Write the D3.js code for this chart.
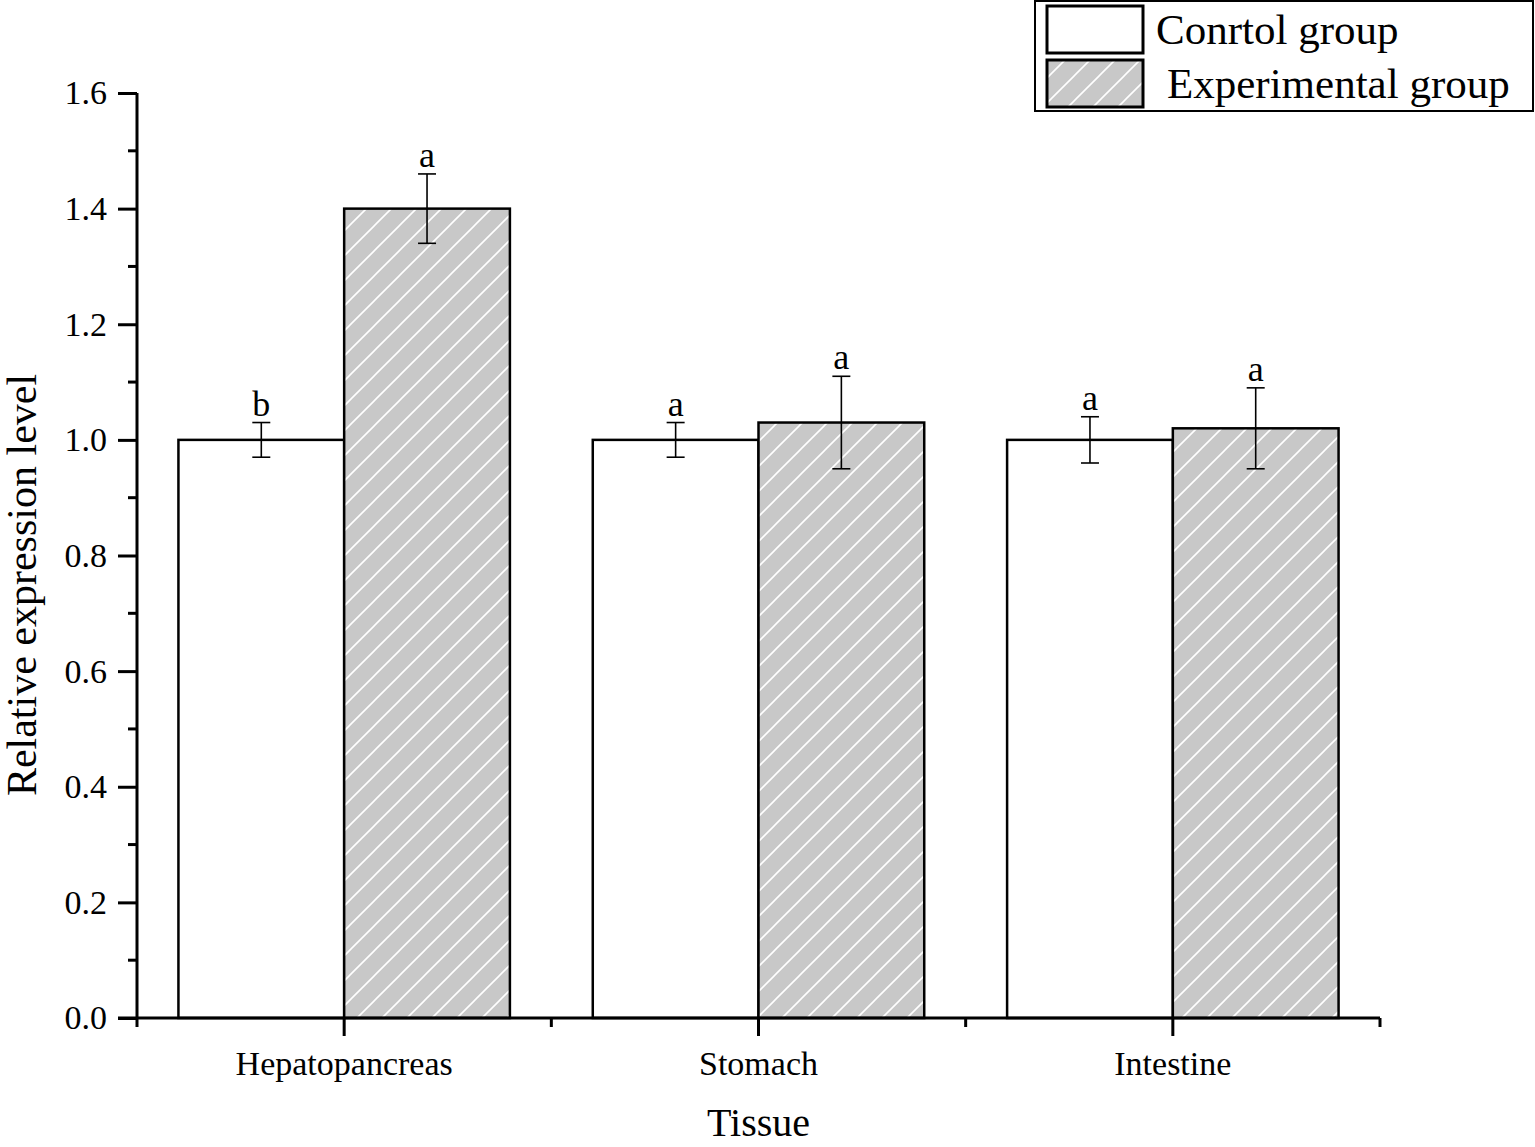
<!DOCTYPE html>
<html>
<head>
<meta charset="utf-8">
<script src="https://cdn.jsdelivr.net/npm/d3@7"></script>
<style>
  body { margin: 0; background: #fff; }
  text { font-family: "Liberation Serif", "Times New Roman", serif; fill: #000; }
</style>
</head>
<body>
<svg id="chart" width="1535" height="1147"></svg>
<script>
// data
const tissues = ["Hepatopancreas", "Stomach", "Intestine"];
const groups = ["Conrtol group", "Experimental group"];
const controlMean = [1.0, 1.0, 1.0];
const controlErr = [0.03, 0.03, 0.04];
const controlSig = ["b", "a", "a"];
const expMean = [1.40, 1.03, 1.02];
const expErr = [0.06, 0.08, 0.07];
const expSig = ["a", "a", "a"];
const yTicks = [0, 0.2, 0.4, 0.6, 0.8, 1.0, 1.2, 1.4, 1.6];

const svg = d3.select("#chart");

let plotLeft = 137, plotRight = 1380, plotTop = 93, plotBottom = 1018;

let x = d3.scaleBand().domain(tissues).range([plotLeft, plotRight]).paddingInner(0).paddingOuter(0);
let xSub = d3.scaleBand().domain(groups).range([0, x.bandwidth()]).paddingInner(0).paddingOuter(0.25);
let y = d3.scaleLinear().domain([0, 1.6]).range([plotBottom, plotTop]);

// hatch pattern for the experimental bars
let defs = svg.append("defs");
let pat = defs.append("pattern")
  .attr("id", "hatch")
  .attr("patternUnits", "userSpaceOnUse")
  .attr("width", 25).attr("height", 25);
pat.append("rect").attr("width", 25).attr("height", 25).attr("fill", "#c8c8c8");
pat.append("path")
  .attr("d", "M-2,27 L27,-2 M-14,14 L14,-14 M11,39 L39,11")
  .attr("stroke", "#fff").attr("stroke-width", 1.6);

let rows = tissues.map((t, i) => ([
  {tissue: t, group: groups[0], mean: controlMean[i], err: controlErr[i], sig: controlSig[i]},
  {tissue: t, group: groups[1], mean: expMean[i], err: expErr[i], sig: expSig[i]}
])).flat();

let bars = svg.append("g");
bars.selectAll("rect").data(rows).join("rect")
  .attr("x", d => x(d.tissue) + xSub(d.group))
  .attr("y", d => y(d.mean))
  .attr("width", xSub.bandwidth())
  .attr("height", d => y(0) - y(d.mean))
  .attr("fill", d => d.group === groups[0] ? "#fff" : "url(#hatch)")
  .attr("stroke", "#000")
  .attr("stroke-width", 2.5);

// error bars
let eb = svg.append("g").attr("stroke", "#000").attr("stroke-width", 1.6);
rows.forEach(d => {
  let cx = x(d.tissue) + xSub(d.group) + xSub.bandwidth() / 2;
  eb.append("line").attr("x1", cx).attr("x2", cx).attr("y1", y(d.mean + d.err)).attr("y2", y(d.mean - d.err));
  eb.append("line").attr("x1", cx - 9).attr("x2", cx + 9).attr("y1", y(d.mean + d.err)).attr("y2", y(d.mean + d.err));
  eb.append("line").attr("x1", cx - 9).attr("x2", cx + 9).attr("y1", y(d.mean - d.err)).attr("y2", y(d.mean - d.err));
});

svg.append("g").selectAll("text").data(rows).join("text")
  .attr("x", d => x(d.tissue) + xSub(d.group) + xSub.bandwidth() / 2)
  .attr("y", d => y(d.mean + d.err) - 7)
  .attr("text-anchor", "middle")
  .style("font-size", "36px")
  .text(d => d.sig);

// y axis
let yAxis = svg.append("g").attr("transform", `translate(${plotLeft},0)`)
  .call(d3.axisLeft(y).tickValues(yTicks).tickFormat(d3.format(".1f")).tickSize(19).tickPadding(11));
yAxis.select(".domain").attr("d", `M0,${plotTop}V${plotBottom}`).attr("stroke-width", 3);
yAxis.selectAll(".tick line").attr("stroke-width", 3);
yAxis.selectAll(".tick text")
  .style("font-size", "34px")
  .attr("font-family", null)
  .attr("dy", "0.32em");
// minor ticks
yAxis.selectAll(".minor").data(d3.range(0.1, 1.6, 0.2)).join("line")
  .attr("class", "minor")
  .attr("x1", -9).attr("x2", 0)
  .attr("y1", d => y(d)).attr("y2", d => y(d))
  .attr("stroke", "#000").attr("stroke-width", 3);

// x axis
let xAxis = svg.append("g").attr("transform", `translate(0,${plotBottom})`);
xAxis.append("line").attr("x1", plotLeft - 19).attr("x2", plotRight)
  .attr("stroke", "#000").attr("stroke-width", 3);
xAxis.selectAll(".major").data(tissues).join("line")
  .attr("class", "major")
  .attr("x1", d => x(d) + x.bandwidth() / 2).attr("x2", d => x(d) + x.bandwidth() / 2)
  .attr("y1", 0).attr("y2", 18)
  .attr("stroke", "#000").attr("stroke-width", 3);
xAxis.selectAll(".minor").data(tissues.map(d => x(d)).concat([plotRight])).join("line")
  .attr("class", "minor")
  .attr("x1", d => d).attr("x2", d => d)
  .attr("y1", 0).attr("y2", 9)
  .attr("stroke", "#000").attr("stroke-width", 3);
xAxis.selectAll("text").data(tissues).join("text")
  .attr("x", d => x(d) + x.bandwidth() / 2)
  .attr("y", 57)
  .attr("text-anchor", "middle")
  .style("font-size", "34px")
  .text(d => d);

// axis titles
svg.append("text")
  .attr("transform", "translate(36,585) rotate(-90)")
  .attr("text-anchor", "middle")
  .style("font-size", "42px")
  .text("Relative expression level");
svg.append("text")
  .attr("x", (plotLeft + plotRight) / 2)
  .attr("y", 1136)
  .attr("text-anchor", "middle")
  .style("font-size", "40px")
  .text("Tissue");

// legend
let lg = svg.append("g");
lg.append("rect").attr("x", 1035).attr("y", 1).attr("width", 498).attr("height", 110)
  .attr("fill", "#fff").attr("stroke", "#000").attr("stroke-width", 2);
lg.selectAll(".sw").data(groups).join("rect")
  .attr("class", "sw")
  .attr("x", 1047).attr("y", (d, i) => 6 + i * 54)
  .attr("width", 96).attr("height", 47)
  .attr("fill", (d, i) => i === 0 ? "#fff" : "url(#hatch)")
  .attr("stroke", "#000").attr("stroke-width", 3);
lg.selectAll(".lt").data(groups).join("text")
  .attr("class", "lt")
  .attr("x", (d, i) => i === 0 ? 1156 : 1167)
  .attr("y", (d, i) => 44 + i * 54)
  .style("font-size", "43px")
  .text(d => d);
</script>
</body>
</html>
